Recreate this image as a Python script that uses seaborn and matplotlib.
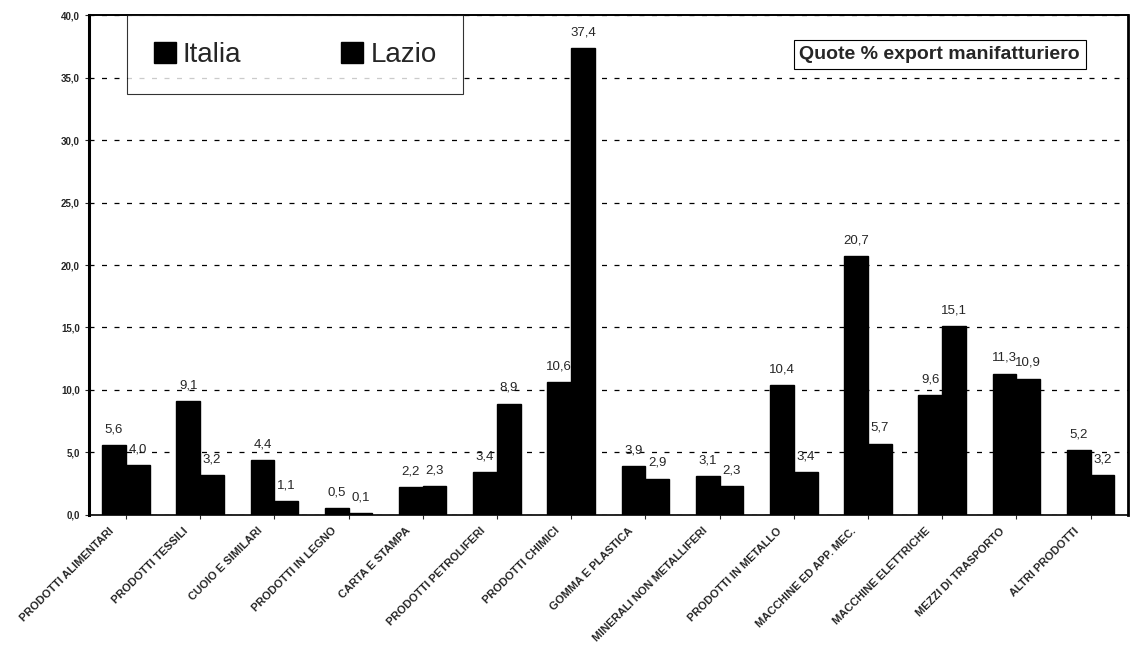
import pandas as pd
import seaborn as sns
import matplotlib.pyplot as plt
import matplotlib.transforms as mtransforms
from matplotlib.ticker import MultipleLocator, FuncFormatter

# dati: quote % export manifatturiero
settori = ['PRODOTTI ALIMENTARI', 'PRODOTTI TESSILI', 'CUOIO E SIMILARI',
           'PRODOTTI IN LEGNO', 'CARTA E STAMPA', 'PRODOTTI PETROLIFERI',
           'PRODOTTI CHIMICI', 'GOMMA E PLASTICA', 'MINERALI NON METALLIFERI',
           'PRODOTTI IN METALLO', 'MACCHINE ED APP. MEC.', 'MACCHINE ELETTRICHE',
           'MEZZI DI TRASPORTO', 'ALTRI PRODOTTI']
italia = [5.6, 9.1, 4.4, 0.5, 2.2, 3.4, 10.6, 3.9, 3.1, 10.4, 20.7, 9.6, 11.3, 5.2]
lazio = [4.0, 3.2, 1.1, 0.1, 2.3, 8.9, 37.4, 2.9, 2.3, 3.4, 5.7, 15.1, 10.9, 3.2]

df = pd.DataFrame({
    'settore': settori * 2,
    'quota': italia + lazio,
    'area': ['Italia'] * len(settori) + ['Lazio'] * len(settori),
})

sns.set_style('white')
plt.rcParams['font.family'] = ['Liberation Sans', 'DejaVu Sans']

fig, ax = plt.subplots(figsize=(11.38, 6.65), dpi=100)
fig.subplots_adjust(left=0.078, right=0.991, top=0.977, bottom=0.226)

sns.barplot(data=df, x='settore', y='quota', hue='area',
            palette=['black', 'black'], width=0.64, saturation=1,
            edgecolor='black', ax=ax)

ax.set_ylim(0, 40)
ax.yaxis.set_major_locator(MultipleLocator(5))
ax.yaxis.set_major_formatter(FuncFormatter(lambda v, p: f"{v:.1f}".replace('.', ',')))
ax.grid(axis='y', linestyle=(0, (4, 6)), color='black', linewidth=0.9)
ax.set_axisbelow(True)
ax.set_xlabel('')
ax.set_ylabel('')

for c in ax.containers:
    ax.bar_label(c, labels=[f"{v:.1f}".replace('.', ',') for v in c.datavalues],
                 padding=7, fontsize=9.5)

ax.tick_params(axis='y', labelsize=7, length=3, direction='out', left=True)
ax.tick_params(axis='x', labelsize=8, length=3, direction='out', bottom=True)
# etichette spostate un po' a sinistra come nell'originale
shift = mtransforms.ScaledTranslation(-0.17, -0.02, fig.dpi_scale_trans)
for lab in ax.get_xticklabels():
    lab.set_rotation(45)
    lab.set_ha('right')
    lab.set_rotation_mode('anchor')
    lab.set_fontweight('bold')
    lab.set_transform(lab.get_transform() + shift)
plt.setp(ax.get_yticklabels(), fontweight='bold')

for s in ax.spines.values():
    s.set_color('black')
ax.spines['left'].set_linewidth(2.2)
ax.spines['right'].set_linewidth(2.0)
ax.spines['top'].set_linewidth(1.4)
ax.spines['bottom'].set_linewidth(1.2)

leg = ax.legend(loc='upper left', bbox_to_anchor=(0.037, 1.0), ncol=2,
                fontsize=20, frameon=True, fancybox=False, edgecolor='black',
                handlelength=0.8, handleheight=0.8, handletextpad=0.25,
                columnspacing=3.6, borderpad=0.95, borderaxespad=0)
leg.get_frame().set_linewidth(0.8)

ax.text(0.954, 0.922, 'Quote % export manifatturiero', transform=ax.transAxes,
        ha='right', va='center', fontsize=14, fontweight='bold',
        bbox=dict(boxstyle='square,pad=0.3', facecolor='white',
                  edgecolor='black', linewidth=0.8))

plt.savefig('out.png', dpi=100)
